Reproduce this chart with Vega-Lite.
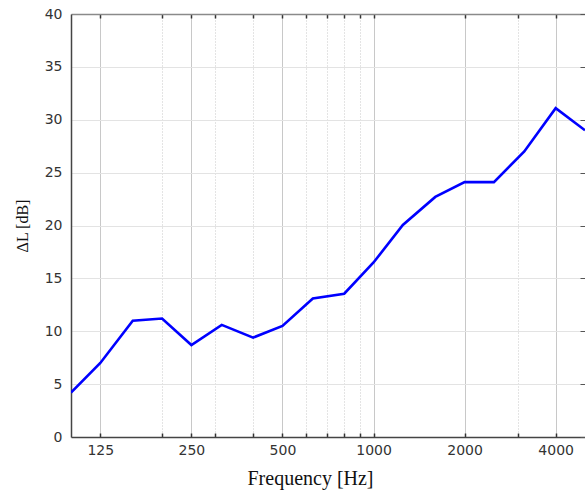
{
  "$schema": "https://vega.github.io/schema/vega-lite/v6.json",
  "width": 514,
  "height": 423,
  "autosize": {"type": "none"},
  "padding": {"left": 71, "top": 14, "right": 0, "bottom": 53},
  "background": "white",
  "config": {
    "view": {"stroke": null},
    "axis": {"labelFont": "DejaVu Sans", "labelFontSize": 14, "labelColor": "#333333", "titleFont": "Liberation Serif", "titleFontWeight": "normal", "titleColor": "#111111"}
  },
  "data": {"values": [
    {"f": 100, "dl": 4.2},
    {"f": 125, "dl": 7.0},
    {"f": 160, "dl": 11.0},
    {"f": 200, "dl": 11.2},
    {"f": 250, "dl": 8.7},
    {"f": 315, "dl": 10.6},
    {"f": 400, "dl": 9.4},
    {"f": 500, "dl": 10.5},
    {"f": 630, "dl": 13.1},
    {"f": 800, "dl": 13.55},
    {"f": 1000, "dl": 16.5},
    {"f": 1250, "dl": 20.05},
    {"f": 1600, "dl": 22.7},
    {"f": 2000, "dl": 24.1},
    {"f": 2500, "dl": 24.1},
    {"f": 3150, "dl": 27.0},
    {"f": 4000, "dl": 31.1},
    {"f": 5000, "dl": 29.0}
  ]},
  "layer": [
    {
      "mark": {"type": "point", "opacity": 0},
      "encoding": {
        "x": {"field": "f", "type": "quantitative",
          "scale": {"type": "log", "domain": [100, 5000], "nice": false},
          "axis": {"orient": "top", "title": null, "labels": false, "grid": false, "domainColor": "#8a8a8a", "domainWidth": 1.5, "tickColor": "#333333", "tickSize": -4, "tickWidth": 1.5,
            "values": [125, 200, 250, 300, 400, 500, 600, 700, 800, 900, 1000, 2000, 3000, 4000]}},
        "y": {"field": "dl", "type": "quantitative",
          "scale": {"domain": [0, 40], "nice": false},
          "axis": {"orient": "right", "title": null, "labels": false, "grid": false, "domain": false, "tickColor": "#555555", "tickSize": -5, "tickWidth": 1,
            "values": [0, 5, 10, 15, 20, 25, 30, 35, 40]}}
      }
    },
    {
      "mark": {"type": "line", "color": "#0000ff", "strokeWidth": 2.6, "clip": true},
      "encoding": {
        "x": {"field": "f", "type": "quantitative",
          "scale": {"type": "log", "domain": [100, 5000], "nice": false},
          "axis": {"orient": "bottom", "title": "Frequency [Hz]", "titleFontSize": 20, "titleX": 239, "titlePadding": 11,
            "values": [125, 200, 250, 300, 400, 500, 600, 700, 800, 900, 1000, 2000, 3000, 4000],
            "labelExpr": "indexof([125, 250, 500, 1000, 2000, 4000], datum.value) >= 0 ? '' + datum.value : ''",
            "labelPadding": 10, "labelFlush": false, "labelOverlap": false,
            "domainColor": "#444444", "domainWidth": 1.5, "tickColor": "#333333", "tickSize": -4, "tickWidth": 1.5,
            "grid": true, "gridColor": "#c8c8c8", "gridWidth": 1,
            "gridDash": {"condition": {"test": "indexof([125, 250, 500, 1000, 2000, 4000], datum.value) < 0", "value": [1, 2]}, "value": []}}},
        "y": {"field": "dl", "type": "quantitative",
          "scale": {"domain": [0, 40], "nice": false},
          "axis": {"orient": "left", "title": "ΔL [dB]", "titleFontSize": 16, "titlePadding": 14,
            "values": [0, 5, 10, 15, 20, 25, 30, 35, 40],
            "labelPadding": 9, "domainColor": "#444444", "domainWidth": 1.5, "ticks": false,
            "grid": true, "gridColor": "#e3e3e3", "gridWidth": 1}}
      }
    }
  ],
  "resolve": {"axis": {"x": "independent", "y": "independent"}}
}
